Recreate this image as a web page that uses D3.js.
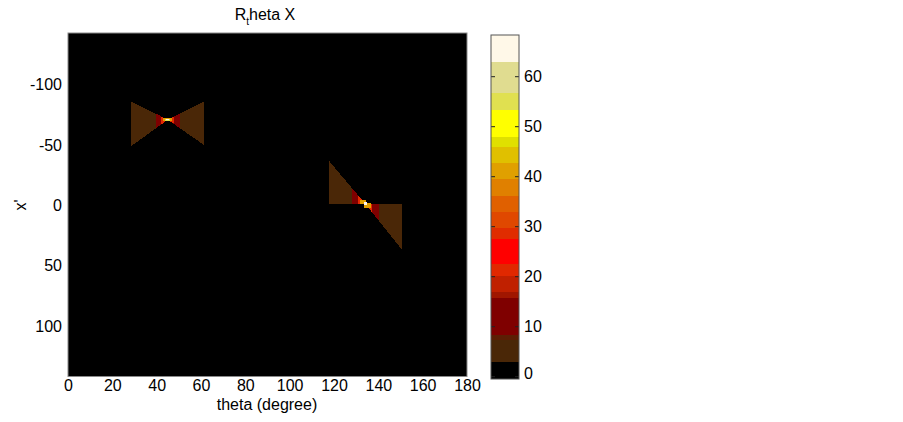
<!DOCTYPE html>
<html>
<head>
<meta charset="utf-8">
<script src="https://cdn.jsdelivr.net/npm/d3@7"></script>
<style>
  body { margin: 0; background: #fff; }
  text { font-family: "Liberation Sans", Arial, sans-serif; fill: #000; }
</style>
</head>
<body>
<div id="chart"></div>
<script>
var thetaTicks = [0, 20, 40, 60, 80, 100, 120, 140, 160, 180];
var xpTicks = [-100, -50, 0, 50, 100];
var cbTicks = [0, 10, 20, 30, 40, 50, 60];

// colour levels of the bar (upper bounds) and their colours
var levelBounds = [2.9, 7.3, 8.3, 15.7, 17.0, 20.1, 22.5, 27.5, 29.7, 33.0, 36.2, 39.5, 42.7, 45.9, 48.0, 53.3, 56.7, 63.0];
var levelColors = ['#000000', '#4a2707', '#5c1e04', '#7f0000', '#a01600', '#c02000', '#e02800', '#ff0000',
  '#e02c00', '#e04800', '#e06000', '#e08000', '#e0a000', '#e0c000', '#e0e000', '#ffff00',
  '#e0e050', '#e0dc90', '#fff8e8'];
var cbRange = [-0.46, 68.34];

// patches in (theta, x') with a level value
var lobeA = [[28.4, -86], [45, -71], [61.4, -86], [61.4, -50], [45, -71], [28.4, -49]];
var coreA = [[39.5, -76.3], [45, -71], [50.5, -76], [50.5, -64], [45, -71], [39.5, -64]];
var hotA = [[42, -73.7], [45, -71], [48, -73.7], [48, -67.5], [45, -71], [42, -67]];
var stripA = [[43, -72.2], [46.8, -72.2], [46.8, -69.8], [43, -69.8]];
var glowA = [[43.8, -71.6], [46, -71.6], [46, -70.4], [43.8, -70.4]];
var spotA = [[44.4, -71.3], [45.5, -71.3], [45.5, -70.7], [44.4, -70.7]];

var lobeB = [[117.7, -37], [134, -1.5], [150.8, 37], [150.8, -1.5], [134, -1.5], [117.7, -1.5]];
var coreB = [[128, -14.6], [134, -1.5], [140.3, 12.9], [140.3, -1.5], [134, -1.5], [128, -1.5]];
var hotB = [[131, -8.0], [134, -1.5], [137, 5.4], [137, -1.5], [134, -1.5], [131, -1.5]];
var stripB1 = [[131.8, -4.8], [134.4, -4.8], [134.4, -1.0], [131.8, -1.0]];
var stripB2 = [[133.6, -2.0], [136.6, -2.0], [136.6, 1.8], [133.6, 1.8]];
var spotB = [[133.6, -2.4], [135.1, -2.4], [135.1, -0.6], [133.6, -0.6]];

var patches = [
  { pts: lobeA, v: 5 }, { pts: coreA, v: 12 }, { pts: hotA, v: 21 },
  { pts: stripA, v: 40 }, { pts: glowA, v: 55 }, { pts: spotA, v: 66 },
  { pts: lobeB, v: 5 }, { pts: coreB, v: 12 }, { pts: hotB, v: 21 },
  { pts: stripB1, v: 40 }, { pts: stripB2, v: 40 }, { pts: spotB, v: 66 }
];

var width = 903, height = 422;
var x = d3.scaleLinear().domain([0, 180]).range([68, 467]);
var y = d3.scaleLinear().domain([-143, 142]).range([33, 376.5]);
var cbY = d3.scaleLinear().domain(cbRange).range([379, 35]);
var color = d3.scaleThreshold().domain(levelBounds).range(levelColors);
var plain = function (d) { return String(d); }; // keep ascii hyphen

var svg = d3.select('#chart').append('svg')
  .attr('width', width)
  .attr('height', height);

svg.append('defs').append('clipPath').attr('id', 'plotclip')
  .append('rect')
  .attr('x', x(0)).attr('y', y(-143))
  .attr('width', x(180) - x(0)).attr('height', y(142) - y(-143));

// black background of the image
svg.append('rect')
  .attr('x', x(0)).attr('y', y(-143))
  .attr('width', x(180) - x(0)).attr('height', y(142) - y(-143))
  .attr('fill', color(0));

var line = d3.line().x(function (d) { return x(d[0]); }).y(function (d) { return y(d[1]); });

svg.append('g')
  .attr('clip-path', 'url(#plotclip)')
  .selectAll('path')
  .data(patches)
  .enter().append('path')
  .attr('d', function (d) { return line(d.pts) + 'Z'; })
  .attr('fill', function (d) { return color(d.v); })
  .attr('shape-rendering', 'crispEdges');

svg.append('rect')
  .attr('x', x(0)).attr('y', y(-143))
  .attr('width', x(180) - x(0)).attr('height', y(142) - y(-143))
  .attr('fill', 'none').attr('stroke', '#8a8a8a').attr('stroke-width', 1);

// axes
var xAxis = svg.append('g')
  .attr('transform', 'translate(0,' + y(142) + ')')
  .call(d3.axisBottom(x).tickValues(thetaTicks).tickFormat(plain).tickSize(0).tickPadding(3));
var yAxis = svg.append('g')
  .attr('transform', 'translate(' + x(0) + ',0)')
  .call(d3.axisLeft(y).tickValues(xpTicks).tickFormat(plain).tickSize(0).tickPadding(6));
[xAxis, yAxis].forEach(function (g) {
  g.select('.domain').remove();
  g.selectAll('text').style('font-size', '16px').attr('fill', '#000');
  g.attr('font-family', null);
});

svg.append('text')
  .attr('x', 267).attr('y', 410)
  .attr('text-anchor', 'middle')
  .style('font-size', '16px')
  .text('theta (degree)');

svg.append('text')
  .attr('transform', 'translate(26,205) rotate(-90)')
  .attr('text-anchor', 'middle')
  .style('font-size', '16px')
  .text("x'");

var title = svg.append('text')
  .attr('x', 265).attr('y', 19.5)
  .attr('text-anchor', 'middle')
  .style('font-size', '16px');
title.append('tspan').text('R');
title.append('tspan').attr('dy', 5).style('font-size', '10px').text('t');
title.append('tspan').attr('dy', -5).text('heta X');

// colour bar
var cbEdges = [cbRange[0]].concat(levelBounds, [cbRange[1]]);
var cb = svg.append('g');
cb.selectAll('rect')
  .data(levelColors)
  .enter().append('rect')
  .attr('x', 491)
  .attr('width', 28)
  .attr('y', function (d, i) { return cbY(cbEdges[i + 1]); })
  .attr('height', function (d, i) { return cbY(cbEdges[i]) - cbY(cbEdges[i + 1]); })
  .attr('fill', function (d) { return d; })
  .attr('shape-rendering', 'crispEdges');

cb.selectAll('line.tl')
  .data(cbTicks)
  .enter().append('line')
  .attr('x1', 491).attr('x2', 495)
  .attr('y1', function (d) { return cbY(d); }).attr('y2', function (d) { return cbY(d); })
  .attr('stroke', '#222');
cb.selectAll('line.tr')
  .data(cbTicks)
  .enter().append('line')
  .attr('x1', 515).attr('x2', 519)
  .attr('y1', function (d) { return cbY(d); }).attr('y2', function (d) { return cbY(d); })
  .attr('stroke', '#222');

cb.append('rect')
  .attr('x', 491).attr('y', cbY(cbRange[1]))
  .attr('width', 28).attr('height', cbY(cbRange[0]) - cbY(cbRange[1]))
  .attr('fill', 'none').attr('stroke', '#555').attr('stroke-width', 1);

var cbAxis = svg.append('g')
  .attr('transform', 'translate(519,0)')
  .call(d3.axisRight(cbY).tickValues(cbTicks).tickFormat(plain).tickSize(0).tickPadding(5));
cbAxis.select('.domain').remove();
cbAxis.attr('font-family', null);
cbAxis.selectAll('text').style('font-size', '16px').attr('fill', '#000')
  .attr('dy', function (d) { return d === 0 ? '0.1em' : '0.32em'; });
</script>
</body>
</html>
